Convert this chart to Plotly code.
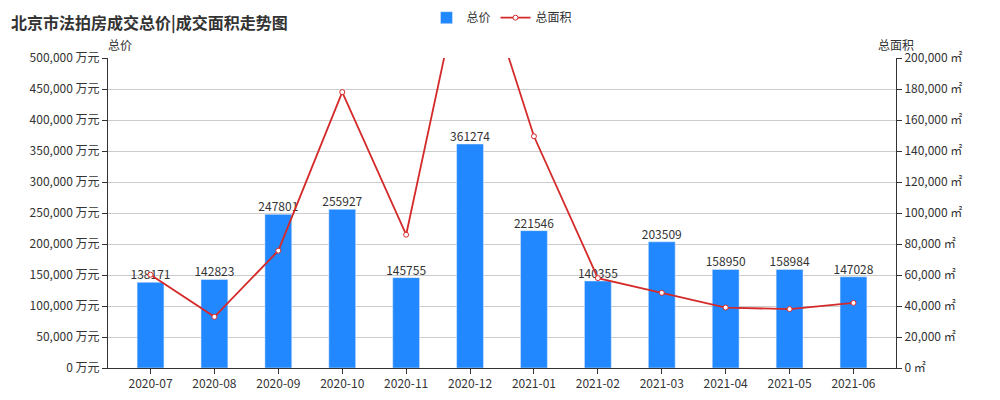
import plotly.graph_objects as go

months = ["2020-07","2020-08","2020-09","2020-10","2020-11","2020-12","2021-01","2021-02","2021-03","2021-04","2021-05","2021-06"]
total_price = [138171,142823,247801,255927,145755,361274,221546,140355,203509,158950,158984,147028]
total_area = [60200,33000,75700,178000,86000,278000,149500,58000,48500,39000,38000,42000]
left_ticks = list(range(0, 500001, 50000))
right_ticks = list(range(0, 200001, 20000))

fig = go.Figure()
fig.add_trace(go.Bar(x=months, y=total_price, name="总价", marker_color="#2288ff", width=0.42))
fig.add_trace(go.Scatter(x=months, y=total_price, mode="text", text=[str(v) for v in total_price],
                         textposition="top center", textfont=dict(size=12, color="#333"),
                         showlegend=False, hoverinfo="skip", cliponaxis=False))
fig.add_trace(go.Scatter(x=months, y=total_area, name="总面积", yaxis="y2", mode="lines+markers",
                         line=dict(color="#d42a2a", width=1.8),
                         marker=dict(size=5, color="white", line=dict(color="#d42a2a", width=1))))
fig.update_layout(
    width=1000, height=400, margin=dict(l=100, r=112, t=50, b=40, autoexpand=False),
    plot_bgcolor="white", paper_bgcolor="white",
    font=dict(family="Noto Sans CJK SC", size=12, color="#333"),
    title=dict(text="<b>北京市法拍房成交总价|成交面积走势图</b>", x=0.003, y=0.975, xanchor="left", yanchor="top", font=dict(size=16, color="#333")),
    legend=dict(orientation="h", x=0.5, xanchor="center", y=1.13, yanchor="middle", font=dict(size=12)),
    xaxis=dict(type="category", showline=True, linecolor="#333", ticks="outside", tickcolor="#333", showgrid=False),
    yaxis=dict(range=[0, 500000], tickvals=left_ticks, ticktext=[f"{v:,} 万元" for v in left_ticks],
               showgrid=True, gridcolor="#ccc", showline=True, linecolor="#333", ticks="outside", tickcolor="#333", zeroline=False),
    yaxis2=dict(range=[0, 200000], overlaying="y", side="right", tickvals=right_ticks,
                ticktext=[f"{v:,} ㎡" for v in right_ticks], showgrid=False, showline=True, linecolor="#333",
                ticks="outside", tickcolor="#333", zeroline=False),
    annotations=[
        dict(text="总价", xref="paper", yref="paper", x=0.015, y=1.01, xanchor="center", yanchor="bottom", showarrow=False, font=dict(size=12)),
        dict(text="总面积", xref="paper", yref="paper", x=1.0, y=1.01, xanchor="center", yanchor="bottom", showarrow=False, font=dict(size=12)),
    ],
)
fig.write_html("out.html")
